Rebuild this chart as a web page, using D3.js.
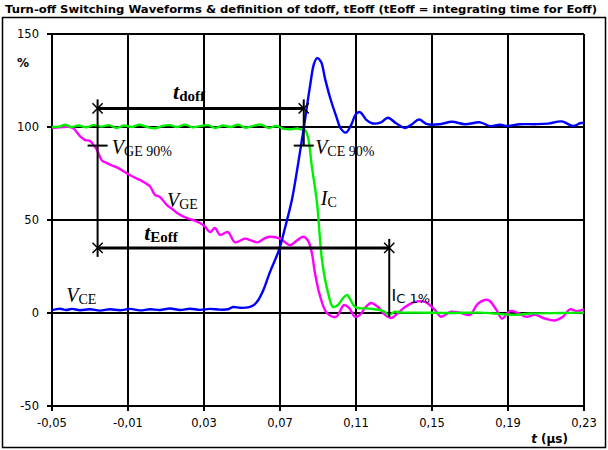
<!DOCTYPE html>
<html><head><meta charset="utf-8">
<script src="https://cdn.jsdelivr.net/npm/d3@7"></script>
<style>body{margin:0;background:#fff}svg{display:block}</style>
</head><body>
<svg id="c" width="608" height="450"></svg>
<script>
// ---- data ----
const title = "Turn-off Switching Waveforms & definition of tdoff, tEoff (tEoff = integrating time for Eoff)";
const xTicks = [-0.05, -0.01, 0.03, 0.07, 0.11, 0.15, 0.19, 0.23];
const xTickLabels = ["-0,05","-0,01","0,03","0,07","0,11","0,15","0,19","0,23"];
const yTicks = [-50, 0, 50, 100, 150];
const yTickLabels = ["-50","0","50","100","150"];

const vceT = [-0.05,-0.0458,-0.0426,-0.0395,-0.0353,-0.03,-0.0247,-0.0195,-0.0142,-0.0089,-0.0037,0.0016,0.0068,0.0121,0.0174,0.0226,0.0279,0.0332,0.0384,0.0426,0.0453,0.0489,0.0532,0.0558,0.0579,0.0611,0.0647,0.0695,0.0732,0.0763,0.0795,0.0826,0.0858,0.0879,0.0895,0.0916,0.0937,0.0963,0.0995,0.1021,0.1047,0.1074,0.11,0.1121,0.1153,0.1184,0.1232,0.1268,0.1311,0.1358,0.1395,0.1432,0.1474,0.1542,0.1605,0.1674,0.1753,0.1805,0.1858,0.1895,0.1963,0.2042,0.2111,0.2184,0.2242,0.2279,0.23];
const vceV = [1.5,2.3,1.6,2.2,1.5,2.0,1.3,2.0,1.5,2.2,1.4,2.0,1.6,2.4,1.6,2.3,1.7,2.2,1.8,2.0,3.2,2.8,3.0,4,6,12,22,34,48,61,80,100,122,134,137,135,126,116,106,99,97,101,107,108,104,102,102.5,105,102,99.5,101.5,104,101.5,101.5,102.8,101.5,102.5,100.5,101.2,100.5,101.5,101.5,101.8,103,100.5,102,102.3];

const icT = [-0.05,-0.046,-0.043,-0.04,-0.036,-0.032,-0.028,-0.024,-0.02,-0.016,-0.012,-0.008,-0.004,0,0.004,0.008,0.012,0.016,0.02,0.024,0.028,0.032,0.036,0.04,0.044,0.048,0.052,0.056,0.06,0.064,0.068,0.072,0.076,0.079,0.0815,0.083,0.0847,0.0868,0.0895,0.0921,0.0953,0.0979,0.1005,0.1032,0.1053,0.1074,0.1095,0.1126,0.1158,0.1195,0.1226,0.1253,0.1268,0.1284,0.1305,0.1332,0.1437,0.1595,0.1753,0.1858,0.1937,0.2016,0.2174,0.23];
const icV = [100,100.2,101.2,100,100.8,99.8,101,100.2,101,99.5,100.8,100,101.2,100,99.3,100.5,101,100,101.3,99.8,100.5,101,99.5,100.8,100,101.2,99.6,100.6,101.3,99.5,100.5,99,98.8,99.2,98.6,98.5,94.6,78.5,59,28.5,10.8,3.2,4.3,8,9.7,6.5,3.2,2.5,2.5,2,1.6,0.5,-1,-0.5,0.7,0.3,0.2,0,0.2,-0.5,-1,-0.3,0,0.2];

const vgeT = [-0.05,-0.0458,-0.0405,-0.0384,-0.0368,-0.0347,-0.0326,-0.03,-0.0279,-0.0263,-0.0237,-0.0211,-0.0184,-0.0153,-0.0105,-0.0068,-0.0037,0.0016,0.0042,0.0068,0.0105,0.0132,0.0158,0.0211,0.0242,0.0279,0.0305,0.0332,0.0358,0.0384,0.0426,0.0463,0.0516,0.0547,0.0584,0.0616,0.0647,0.07,0.0753,0.0789,0.0821,0.0847,0.0868,0.0884,0.0911,0.0947,0.0995,0.1037,0.1063,0.1095,0.1121,0.1147,0.1179,0.1216,0.1253,0.1284,0.1321,0.1358,0.1411,0.1463,0.1516,0.1547,0.1600,0.1653,0.1700,0.1742,0.1795,0.1837,0.1868,0.1911,0.1953,0.1995,0.2042,0.2095,0.2147,0.2189,0.2226,0.2263,0.23];
const vgeV = [99.5,99.8,100,99,97,94.5,93,92.5,90,87.6,82,80.6,79.3,78,75,73,71.5,68,63.5,62.4,58,56,53.8,51,50,48.4,46.5,43.5,45.7,42,43.5,38,40,39,38,40,41,40,36.5,39,41,39,32,21.5,9,0,-2,4.3,2.7,-2,-1,2.7,5.4,3.2,-1,-2.7,0,3.2,6,6,1.6,-2,0.7,0,-1,5,7,2,-3,1,0,-2,-1,-3,-4,-2,2,1,2];

// annotation anchor values (data coords)
const tdoffStart = -0.026, tdoffEnd = 0.0825, tdoffLevel = 110;
const teoffStart = -0.026, teoffEnd = 0.1275, teoffLevel = 35;
const level90 = 90, level1 = 0;

// ---- drawing ----
const svg = d3.select("#c");
const L = 52, R = 584, T = 34, B = 406;
const x = d3.scaleLinear().domain([-0.05, 0.23]).range([L, R]);
const y = d3.scaleLinear().domain([-50, 150]).range([B, T]);

// outer border
svg.append("rect").attr("x",2.5).attr("y",17.5).attr("width",603).attr("height",430)
  .attr("fill","none").attr("stroke","#000").attr("stroke-width",1.5);

// title
svg.append("text").attr("x",5).attr("y",13).attr("font-family","Verdana, 'DejaVu Sans', sans-serif")
  .attr("font-weight","bold").attr("font-size",9.6).attr("textLength",592).attr("lengthAdjust","spacingAndGlyphs")
  .text(title);

const grid = svg.append("g").attr("stroke","#000").attr("stroke-width",2);
xTicks.forEach(t => grid.append("line").attr("x1",x(t)).attr("x2",x(t)).attr("y1",T).attr("y2",B+5));
yTicks.forEach(v => grid.append("line").attr("x1",L-5).attr("x2",R).attr("y1",y(v)).attr("y2",y(v)));

const fnt = "Verdana, 'DejaVu Sans', sans-serif";
xTicks.forEach((t,i) => svg.append("text").attr("x",x(t)).attr("y",427).attr("text-anchor","middle")
  .attr("font-family",fnt).attr("font-size",11.5).text(xTickLabels[i]));
yTicks.forEach((v,i) => svg.append("text").attr("x",39).attr("y",y(v)+4).attr("text-anchor","end")
  .attr("font-family",fnt).attr("font-size",11.5).text(yTickLabels[i]));

svg.append("text").attr("x",17).attr("y",67).attr("font-family",fnt).attr("font-size",12).attr("font-weight","bold").text("%");
const xt = svg.append("text").attr("x",568).attr("y",443).attr("text-anchor","end").attr("font-family",fnt).attr("font-size",12).attr("font-weight","bold");
xt.append("tspan").attr("font-style","italic").text("t");
xt.append("tspan").text(" (µs)");

// curves
const line = d3.line().x(d => x(d[0])).y(d => y(d[1])).curve(d3.curveCatmullRom.alpha(0.5));
function curve(ts, vs, color){
  svg.append("path").datum(ts.map((t,i)=>[t,vs[i]])).attr("d",line).attr("fill","none")
    .attr("stroke",color).attr("stroke-width",2.4).attr("stroke-linejoin","round");
}
curve(vgeT, vgeV, "#ff00ff");
curve(icT, icV, "#00f000");
curve(vceT, vceV, "#0000ff");

// annotations
const ann = svg.append("g").attr("stroke","#000").attr("stroke-width",3);
ann.append("line").attr("x1",x(tdoffStart)).attr("x2",x(tdoffEnd)).attr("y1",y(tdoffLevel)).attr("y2",y(tdoffLevel));
ann.append("line").attr("x1",x(teoffStart)).attr("x2",x(teoffEnd)).attr("y1",y(teoffLevel)).attr("y2",y(teoffLevel));
ann.append("line").attr("x1",x(tdoffStart)).attr("x2",x(tdoffStart)).attr("y1",y(tdoffLevel)-9).attr("y2",y(teoffLevel)+9).attr("stroke-width",2);
ann.append("line").attr("x1",x(tdoffEnd)).attr("x2",x(tdoffEnd)).attr("y1",y(tdoffLevel)-9).attr("y2",y(level90)).attr("stroke-width",2);
ann.append("line").attr("x1",x(teoffEnd)).attr("x2",x(teoffEnd)).attr("y1",y(teoffLevel)-9).attr("y2",y(level1)+4).attr("stroke-width",2);
ann.append("line").attr("x1",x(tdoffStart)-10).attr("x2",x(tdoffStart)+10).attr("y1",y(level90)).attr("y2",y(level90)).attr("stroke-width",2);
ann.append("line").attr("x1",x(tdoffEnd)-10).attr("x2",x(tdoffEnd)+10).attr("y1",y(level90)).attr("y2",y(level90)).attr("stroke-width",2);
const star = d3.symbol().type(d3.symbolX).size(70);
[[tdoffStart,tdoffLevel],[tdoffEnd,tdoffLevel],[teoffStart,teoffLevel],[teoffEnd,teoffLevel]].forEach(p=>{
  svg.append("path").attr("d",star).attr("transform",`translate(${x(p[0])},${y(p[1])})`).attr("fill","#000").attr("stroke","#000").attr("stroke-width",1.5);
});

const serif = "'Liberation Serif', 'DejaVu Serif', serif";
function label(px, py, main, sub, italic, size, subSize, bold, family){
  const t = svg.append("text").attr("x",px).attr("y",py).attr("font-family",family||serif);
  t.append("tspan").attr("font-style",italic?"italic":"normal").attr("font-weight",bold?"bold":"normal").attr("font-size",size).text(main);
  t.append("tspan").attr("font-size",subSize).attr("font-weight",bold?"bold":"normal").attr("dy",2).text(sub);
}
label(x(0.0137), y(111)-8, "t", "doff", true, 22, 15, true);
label(x(-0.0015), y(35)-8, "t", "Eoff", true, 22, 15, true);
label(x(-0.0185), y(85.5), "V", "GE 90%", true, 20, 14, false);
label(x(0.0885), y(85.5), "V", "CE 90%", true, 20, 14, false);
label(x(0.0105), y(57), "V", "GE", true, 20, 14, false);
label(x(0.0915), y(58), "I", "C", true, 20, 14, false);
label(x(-0.0425), y(6), "V", "CE", true, 20, 14, false);
label(x(0.1287), y(6.5), "I", "C 1%", false, 16, 13, false, fnt);
</script>
</body></html>
